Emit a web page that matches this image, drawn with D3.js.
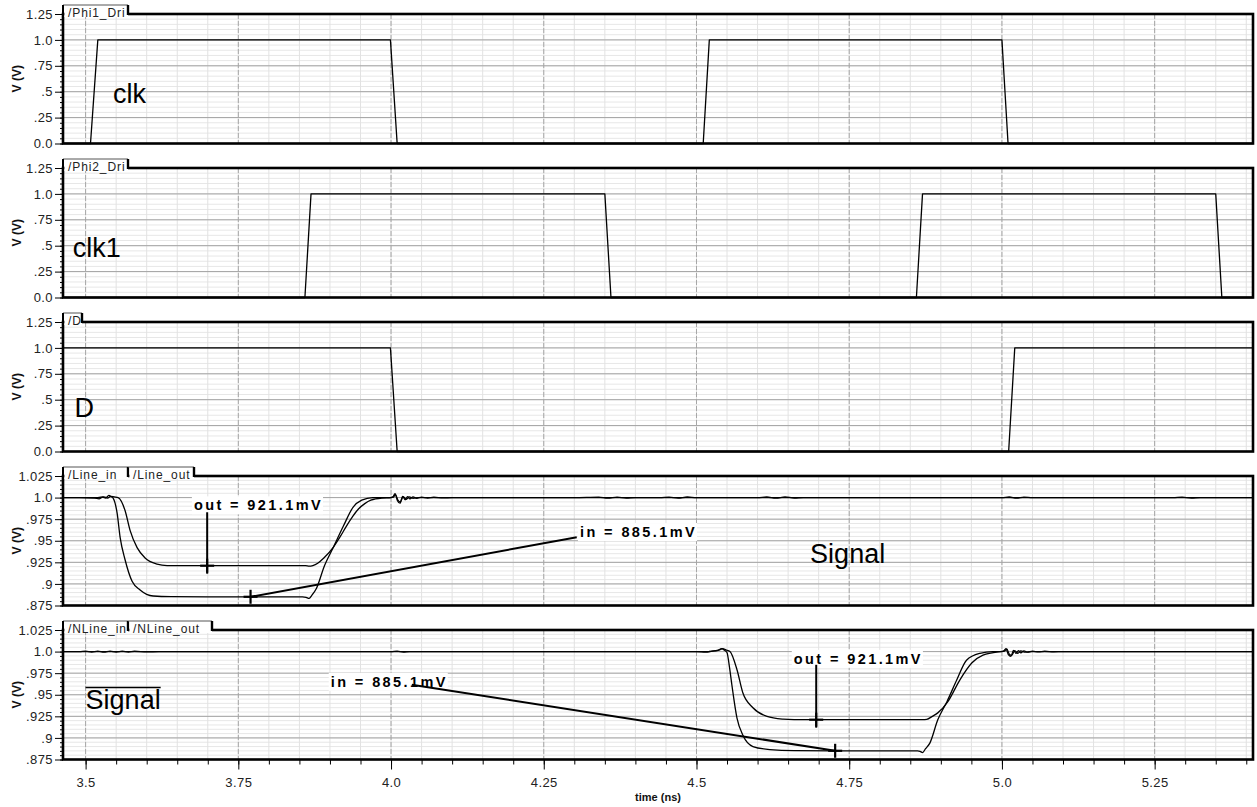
<!DOCTYPE html>
<html>
<head>
<meta charset="utf-8">
<script src="https://cdn.jsdelivr.net/npm/d3@7"></script>
<style>
  body { margin: 0; background: #fff; }
  svg { display: block; font-family: "Liberation Sans", Arial, Helvetica, sans-serif; }
</style>
</head>
<body>
<svg id="chart" width="1257" height="807"></svg>
<script>
// ---- time axis ----
const timeDomain = [3.463, 5.411];
const timeTicks = [3.5, 3.75, 4.0, 4.25, 4.5, 4.75, 5.0, 5.25];
const timeTickLabels = ["3.5", "3.75", "4.0", "4.25", "4.5", "4.75", "5.0", "5.25"];

// ---- voltage axes ----
const digitalDomain = [0, 1.25];
const digitalTicks = [0, 0.25, 0.5, 0.75, 1.0, 1.25];
const digitalTickLabels = ["0.0", ".25", ".5", ".75", "1.0", "1.25"];
const lineDomain = [0.875, 1.025];
const lineTicks = [0.875, 0.9, 0.925, 0.95, 0.975, 1.0, 1.025];
const lineTickLabels = [".875", ".9", ".925", ".95", ".975", "1.0", "1.025"];

// ---- waveforms: [time (ns), volts] ----
const phi1Dri = [[3.463,0],[3.508,0],[3.520,1],[3.999,1],[4.010,0],[4.511,0],[4.521,1],[5.000,1],[5.010,0],[5.411,0]];
const phi2Dri = [[3.463,0],[3.859,0],[3.869,1],[4.350,1],[4.360,0],[4.860,0],[4.870,1],[5.350,1],[5.360,0],[5.411,0]];
const dSig    = [[3.463,1],[3.999,1],[4.010,0],[5.011,0],[5.021,1],[5.411,1]];

const lineIn = [
  [3.463,1.0],[3.49,1.0],[3.515,0.9995],[3.522,0.9985],[3.528,1.0005],[3.533,0.9995],[3.538,1.0025],
  [3.542,1.001],[3.545,0.9995],[3.5516,0.982],[3.5565,0.954],[3.5646,0.928],[3.5761,0.903],
  [3.5892,0.893],[3.6105,0.886],[3.64,0.8853],[3.70,0.8851],[3.80,0.8851],[3.855,0.8851],
  [3.861,0.8845],[3.866,0.8832],[3.870,0.8865],[3.878,0.895],[3.891,0.921],[3.906,0.943],
  [3.922,0.967],[3.938,0.989],[3.952,0.997],[3.970,1.0],[3.998,1.0],[4.003,1.0008],[4.0065,1.0045],
  [4.0105,0.9965],[4.0147,0.9935],[4.019,1.0015],[4.023,0.9975],[4.027,1.001],[4.031,0.9985],
  [4.036,1.0008],[4.042,0.9992],[4.05,1.0005],[4.06,0.9995],[4.07,1.0004],[4.085,0.9996],[4.10,1.0],
  [4.30,1.0],[4.34,1.0006],[4.355,0.9994],[4.37,1.0006],[4.385,0.9995],[4.40,1.0],[4.44,1.0],
  [4.455,1.0005],[4.47,0.9994],[4.485,1.0007],[4.50,1.0],[4.60,1.0],[4.615,1.0007],[4.63,0.9993],
  [4.645,1.0008],[4.66,0.9995],[4.675,1.0],[5.00,1.0],[5.012,1.0007],[5.024,0.9993],[5.036,1.0006],
  [5.05,1.0],[5.28,1.0],[5.295,1.0005],[5.31,0.9995],[5.325,1.0],[5.411,1.0]
];
const lineOut = [
  [3.463,1.0],[3.52,1.0],[3.53,1.0008],[3.536,0.9995],[3.541,1.0015],[3.547,1.0008],[3.5532,1.0],
  [3.5646,0.985],[3.5728,0.962],[3.5843,0.942],[3.5974,0.930],[3.617,0.9230],[3.6334,0.9213],
  [3.70,0.9211],[3.86,0.9211],[3.866,0.9205],[3.872,0.9213],[3.880,0.924],[3.890,0.930],
  [3.906,0.943],[3.917,0.955],[3.927,0.967],[3.937,0.978],[3.947,0.987],[3.957,0.993],
  [3.967,0.997],[3.985,0.9995],[4.0,1.0],[4.004,1.0005],[4.007,1.0035],[4.011,0.9975],
  [4.015,0.995],[4.02,1.001],[4.025,0.998],[4.03,1.0008],[4.036,0.9992],[4.045,1.0],[5.411,1.0]
];
const nLineIn = [
  [3.463,1.0],[3.49,1.0],[3.50,1.0005],[3.51,0.9995],[3.52,1.0006],[3.53,0.9994],[3.54,1.0006],
  [3.55,0.9995],[3.56,1.0005],[3.57,0.9995],[3.58,1.0004],[3.60,0.9996],[3.62,1.0],[4.0,1.0],
  [4.01,1.0005],[4.02,0.9995],[4.03,1.0],[4.50,1.0],[4.515,0.9995],[4.525,1.0005],[4.535,1.0015],
  [4.541,1.0035],[4.546,1.0015],[4.5499,0.999],[4.554,0.982],[4.558,0.961],[4.5663,0.923],
  [4.576,0.903],[4.5924,0.890],[4.620,0.8865],[4.66,0.8853],[4.727,0.8851],[4.862,0.8851],
  [4.866,0.8845],[4.870,0.8830],[4.875,0.8875],[4.882,0.894],[4.895,0.921],[4.910,0.942],
  [4.926,0.967],[4.942,0.990],[4.964,0.998],[4.985,1.0],[5.0,1.0],[5.003,1.0008],[5.0065,1.0035],
  [5.0105,0.9965],[5.0147,0.9945],[5.019,1.0015],[5.023,0.998],[5.027,1.001],[5.031,0.9985],
  [5.036,1.0008],[5.042,0.9994],[5.05,1.0005],[5.06,0.9996],[5.07,1.0004],[5.085,0.9997],
  [5.10,1.0],[5.411,1.0]
];
const nLineOut = [
  [3.463,1.0],[4.52,1.0],[4.53,1.0008],[4.538,1.002],[4.543,1.0035],[4.548,1.002],[4.5548,1.0],
  [4.5663,0.979],[4.576,0.952],[4.5924,0.935],[4.6154,0.925],[4.6416,0.9218],[4.66,0.9212],
  [4.696,0.9211],[4.87,0.9211],[4.877,0.9215],[4.886,0.925],[4.895,0.929],[4.9115,0.942],
  [4.931,0.967],[4.951,0.987],[4.969,0.996],[4.997,1.0],[5.004,1.0005],[5.008,1.003],
  [5.012,0.997],[5.016,0.9955],[5.021,1.001],[5.026,0.998],[5.031,1.0008],[5.038,0.9993],
  [5.05,1.0],[5.411,1.0]
];

// ---- measurement cursors: value marker, leader end, label anchor (time, volts) ----
const lineOutCursor  = { t: 3.699, v: 0.9211, leadT: 3.699, leadV: 0.983,  labT: 3.674, labV: 0.991, name: "out" };
const lineInCursor   = { t: 3.770, v: 0.8851, leadT: 4.304, leadV: 0.954,  labT: 4.306, labV: 0.960, name: "in" };
const nLineOutCursor = { t: 4.696, v: 0.9211, leadT: 4.696, leadV: 0.9847, labT: 4.656, labV: 0.9916, name: "out" };
const nLineInCursor  = { t: 4.727, v: 0.8851, leadT: 4.034, leadV: 0.9616, labT: 3.898, labV: 0.965, name: "in" };

// ---- layout ----
const plotL = 63, plotR = 1253;
const panelH = 129.5;
const svg = d3.select("#chart");
const x = d3.scaleLinear().domain(timeDomain).range([plotL, plotR]);

const panels = [
  { top: 14,  domain: digitalDomain, ticks: digitalTicks, labels: digitalTickLabels, minorStep: 0.05,
    tabs: [["/Phi1_Dri", 65]], series: [phi1Dri], curve: d3.curveLinear,
    title: { text: "clk", t: 3.545, v: 0.39 } },
  { top: 168, domain: digitalDomain, ticks: digitalTicks, labels: digitalTickLabels, minorStep: 0.05,
    tabs: [["/Phi2_Dri", 65]], series: [phi2Dri], curve: d3.curveLinear,
    title: { text: "clk1", t: 3.479, v: 0.39 } },
  { top: 322, domain: digitalDomain, ticks: digitalTicks, labels: digitalTickLabels, minorStep: 0.05,
    tabs: [["/D", 19]], series: [dSig], curve: d3.curveLinear,
    title: { text: "D", t: 3.482, v: 0.33 } },
  { top: 476, domain: lineDomain, ticks: lineTicks, labels: lineTickLabels, minorStep: 0.005,
    tabs: [["/Line_in", 65], ["/Line_out", 66]], series: [lineIn, lineOut], curve: d3.curveMonotoneX,
    title: { text: "Signal", t: 4.686, v: 0.9245 }, cursors: [lineOutCursor, lineInCursor] },
  { top: 630, domain: lineDomain, ticks: lineTicks, labels: lineTickLabels, minorStep: 0.005,
    tabs: [["/NLine_in", 65], ["/NLine_out", 84]], series: [nLineIn, nLineOut], curve: d3.curveMonotoneX,
    title: { text: "Signal", t: 3.5, v: 0.933, overline: true }, cursors: [nLineOutCursor, nLineInCursor] }
];

const minorTimes = d3.range(3.5, 5.42, 0.05).filter(t => t <= timeDomain[1] + 1e-9);
const majorTimes = timeTicks;

panels.forEach((p, idx) => {
  const y = d3.scaleLinear().domain(p.domain).range([p.top + panelH, p.top]);
  const g = svg.append("g");
  const bottom = p.top + panelH;

  // horizontal grid
  const nMinor = Math.round((p.domain[1] - p.domain[0]) / p.minorStep);
  const minorVals = d3.range(0, nMinor + 1).map(i => p.domain[0] + i * p.minorStep);
  g.append("g").selectAll("line").data(minorVals).join("line")
    .attr("x1", plotL).attr("x2", plotR)
    .attr("y1", d => y(d)).attr("y2", d => y(d))
    .attr("stroke", "#e7e7e7").attr("stroke-width", 1);
  // vertical grid
  g.append("g").selectAll("line").data(minorTimes).join("line")
    .attr("x1", d => x(d)).attr("x2", d => x(d))
    .attr("y1", p.top).attr("y2", bottom)
    .attr("stroke", "#e2e2e2").attr("stroke-width", 1);
  g.append("g").selectAll("line").data(p.ticks).join("line")
    .attr("x1", plotL).attr("x2", plotR)
    .attr("y1", d => y(d)).attr("y2", d => y(d))
    .attr("stroke", "#a3a3a3").attr("stroke-width", 1);
  g.append("g").selectAll("line").data(majorTimes).join("line")
    .attr("x1", d => x(d)).attr("x2", d => x(d))
    .attr("y1", p.top).attr("y2", bottom)
    .attr("stroke", "#a6a6a6").attr("stroke-width", 1)
    .attr("stroke-dasharray", "5,2");

  // waveforms
  const line = d3.line().x(d => x(d[0])).y(d => y(d[1])).curve(p.curve);
  p.series.forEach(s => {
    g.append("path").attr("d", line(s))
      .attr("fill", "none").attr("stroke", "#000").attr("stroke-width", 1.3)
      .attr("stroke-linejoin", "round");
  });

  // big signal label
  const tt = g.append("text")
    .attr("x", x(p.title.t)).attr("y", y(p.title.v))
    .attr("font-size", 27).attr("fill", "#000")
    .text(p.title.text);
  if (p.title.overline) {
    const bb = tt.node().getBBox();
    g.append("line").attr("x1", bb.x).attr("x2", bb.x + bb.width)
      .attr("y1", bb.y + 2).attr("y2", bb.y + 2)
      .attr("stroke", "#000").attr("stroke-width", 1.6);
  }

  // cursors
  (p.cursors || []).forEach(c => {
    const label = `${c.name} = ${(c.v * 1000).toFixed(1)}mV`;
    const lt = g.append("text")
      .attr("x", x(c.labT) + 2).attr("y", y(c.labV) + 5)
      .attr("font-size", 14.5).attr("font-weight", "bold")
      .attr("letter-spacing", 2.4).attr("fill", "#000")
      .text(label);
    const bb = lt.node().getBBox();
    g.insert("rect", () => lt.node())
      .attr("x", bb.x - 2).attr("y", bb.y - 1)
      .attr("width", bb.width + 2).attr("height", bb.height + 2)
      .attr("fill", "#fff");
    g.append("line")
      .attr("x1", x(c.leadT)).attr("y1", y(c.leadV))
      .attr("x2", x(c.t)).attr("y2", y(c.v) + (c.leadT === c.t ? 8 : 0))
      .attr("stroke", "#000").attr("stroke-width", 2);
    g.append("line").attr("x1", x(c.t) - 7).attr("x2", x(c.t) + 7)
      .attr("y1", y(c.v)).attr("y2", y(c.v))
      .attr("stroke", "#000").attr("stroke-width", 2.2);
    g.append("line").attr("x1", x(c.t)).attr("x2", x(c.t))
      .attr("y1", y(c.v) - 7).attr("y2", y(c.v) + 7)
      .attr("stroke", "#000").attr("stroke-width", 2.2);
  });

  // y axis ticks
  const yMajor = d3.axisLeft(y).tickValues(p.ticks)
    .tickFormat((d, i) => p.labels[i]).tickSize(8).tickPadding(2);
  const ya = g.append("g").attr("transform", `translate(${plotL},0)`).call(yMajor);
  ya.select(".domain").remove();
  ya.selectAll(".tick line").attr("stroke", "#000");
  ya.selectAll(".tick text").attr("font-size", 13).attr("fill", "#222")
    .attr("letter-spacing", 0.4)
    .attr("font-family", "\"Liberation Sans\", Arial, sans-serif");
  const yMinor = d3.axisLeft(y).tickValues(minorVals).tickSize(3).tickFormat("");
  const ym = g.append("g").attr("transform", `translate(${plotL},0)`).call(yMinor);
  ym.select(".domain").remove();
  ym.selectAll(".tick line").attr("stroke", "#000");

  // axis title
  g.append("text")
    .attr("transform", `translate(21,${p.top + panelH / 2}) rotate(-90)`)
    .attr("text-anchor", "middle").attr("font-size", 12).attr("font-weight", "bold")
    .attr("fill", "#111").text("V (V)");

  // frame
  g.append("rect").attr("x", plotL).attr("y", p.top)
    .attr("width", plotR - plotL).attr("height", panelH)
    .attr("fill", "none").attr("stroke", "#000").attr("stroke-width", 2.6);

  // trace name tabs
  let tx = plotL;
  p.tabs.forEach(([name, w]) => {
    g.append("rect").attr("x", tx + 1.4).attr("y", p.top - 9)
      .attr("width", w - 1.4).attr("height", 12).attr("fill", "#fff");
    g.append("line").attr("x1", tx).attr("x2", tx + w)
      .attr("y1", p.top - 9).attr("y2", p.top - 9)
      .attr("stroke", "#555").attr("stroke-width", 1);
    g.append("line").attr("x1", tx + w).attr("x2", tx + w)
      .attr("y1", p.top - 9).attr("y2", p.top + 1)
      .attr("stroke", "#000").attr("stroke-width", 2.4);
    g.append("text").attr("x", tx + 5).attr("y", p.top + 2.5)
      .attr("font-size", 12).attr("letter-spacing", 0.9).attr("fill", "#222")
      .text(name);
    tx += w;
  });
  g.append("line").attr("x1", plotL).attr("x2", plotL)
    .attr("y1", p.top - 9).attr("y2", p.top + 2)
    .attr("stroke", "#000").attr("stroke-width", 2);

  // time axis under the last panel
  if (idx === panels.length - 1) {
    const xMajor = d3.axisBottom(x).tickValues(timeTicks)
      .tickFormat((d, i) => timeTickLabels[i]).tickSize(10).tickPadding(8);
    const xa = g.append("g").attr("transform", `translate(0,${bottom})`).call(xMajor);
    xa.select(".domain").remove();
    xa.selectAll(".tick line").attr("stroke", "#000");
    xa.selectAll(".tick text").attr("font-size", 13).attr("fill", "#222")
      .attr("letter-spacing", 0.4)
      .attr("font-family", "\"Liberation Sans\", Arial, sans-serif");
    const xMinor = d3.axisBottom(x).tickValues(minorTimes).tickSize(5).tickFormat("");
    const xm = g.append("g").attr("transform", `translate(0,${bottom})`).call(xMinor);
    xm.select(".domain").remove();
    xm.selectAll(".tick line").attr("stroke", "#000");
    g.append("text").attr("x", (plotL + plotR) / 2).attr("y", 801)
      .attr("text-anchor", "middle").attr("font-size", 11).attr("font-weight", "bold")
      .attr("fill", "#111").text("time (ns)");
  }
});
</script>
</body>
</html>
